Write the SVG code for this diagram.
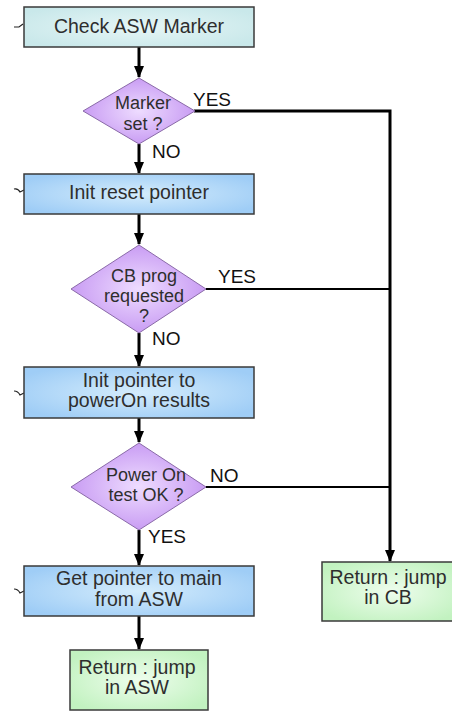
<svg xmlns="http://www.w3.org/2000/svg" width="452" height="711" viewBox="0 0 452 711">
<defs>
<radialGradient id="gTeal" cx="50%" cy="50%" r="60%"><stop offset="0" stop-color="#e6f6f6"/><stop offset="1" stop-color="#c9e8ea"/></radialGradient>
<radialGradient id="gBlue" cx="50%" cy="50%" r="60%"><stop offset="0" stop-color="#d4ecfc"/><stop offset="1" stop-color="#9fcdf6"/></radialGradient>
<radialGradient id="gGreen" cx="50%" cy="50%" r="60%"><stop offset="0" stop-color="#eefded"/><stop offset="1" stop-color="#c2f2c0"/></radialGradient>
<radialGradient id="gPurple" cx="50%" cy="50%" r="55%"><stop offset="0" stop-color="#eedcff"/><stop offset="1" stop-color="#c596f2"/></radialGradient>
<marker id="arr" markerWidth="12" markerHeight="12" refX="11" refY="6" orient="auto" markerUnits="userSpaceOnUse" viewBox="0 0 12 12">
<path d="M0,1 L12,6 L0,11 Z" fill="#000"/>
</marker>
</defs>
<style>
.box{stroke:#3a3a3a;stroke-width:1.5}
.dia{stroke:#8a6aa8;stroke-width:1}
.t{font-family:"Liberation Sans",Arial,sans-serif;font-size:19.5px;fill:#2e2e2e;text-anchor:middle}
.td{font-family:"Liberation Sans",Arial,sans-serif;font-size:18px;fill:#2e2e2e;text-anchor:middle}
.lbl{font-family:"Liberation Sans",Arial,sans-serif;font-size:19px;fill:#111}
.ln{stroke:#000;fill:none;stroke-width:3}
.ln2{stroke:#000;fill:none;stroke-width:2}
.tick{stroke:#222;fill:none;stroke-width:1.2}
</style>
<g id="connectors">
<path class="ln" d="M139,47 V77" marker-end="url(#arr)"/>
<path class="ln" d="M139,144 V173" marker-end="url(#arr)"/>
<path class="ln" d="M139,214 V244" marker-end="url(#arr)"/>
<path class="ln" d="M139,333 V366" marker-end="url(#arr)"/>
<path class="ln" d="M139,418 V442" marker-end="url(#arr)"/>
<path class="ln" d="M139,530 V565" marker-end="url(#arr)"/>
<path class="ln" d="M139,616 V649" marker-end="url(#arr)"/>
<path class="ln" d="M194,111 H390 V561" marker-end="url(#arr)"/>
<path class="ln2" d="M206,289 H390"/>
<path class="ln2" d="M206,487 H390"/>
<path class="tick" d="M14,27 H19 L23,24"/>
<path class="tick" d="M14,189 Q18,188 20,192 L24,190"/>
<path class="tick" d="M14,391 Q18,391 20,395 L24,393"/>
<path class="tick" d="M14,589 Q18,589 20,593 L24,591"/>
<text class="lbl" x="193" y="106">YES</text>
<text class="lbl" x="152" y="158">NO</text>
<text class="lbl" x="218" y="283">YES</text>
<text class="lbl" x="152" y="345">NO</text>
<text class="lbl" x="210" y="482">NO</text>
<text class="lbl" x="148" y="543">YES</text>
</g>
<g id="checkMarker">
<rect class="box" x="24" y="7" width="230" height="40" fill="url(#gTeal)"/>
<text class="t" x="139" y="33">Check ASW Marker</text>
</g>
<g id="markerSet">
<polygon class="dia" points="139,78 195,111 139,144 83,111" fill="url(#gPurple)"/>
<text class="td" x="143" y="109">Marker</text>
<text class="td" x="143" y="130">set ?</text>
</g>
<g id="initReset">
<rect class="box" x="24" y="174" width="230" height="40" fill="url(#gBlue)"/>
<text class="t" x="139" y="199">Init reset pointer</text>
</g>
<g id="cbProg">
<polygon class="dia" points="139,245 206,289 139,333 71,289" fill="url(#gPurple)"/>
<text class="td" x="144" y="282">CB prog</text>
<text class="td" x="144" y="302">requested</text>
<text class="td" x="144" y="322">?</text>
</g>
<g id="initPowerOn">
<rect class="box" x="24" y="367" width="230" height="51" fill="url(#gBlue)"/>
<text class="t" x="139" y="387">Init pointer to</text>
<text class="t" x="139" y="407">powerOn results</text>
</g>
<g id="powerOnTest">
<polygon class="dia" points="139,443 206,487 139,530 71,487" fill="url(#gPurple)"/>
<text class="td" x="146" y="481">Power On</text>
<text class="td" x="146" y="501">test OK ?</text>
</g>
<g id="getPointer">
<rect class="box" x="24" y="566" width="230" height="50" fill="url(#gBlue)"/>
<text class="t" x="139" y="585">Get pointer to main</text>
<text class="t" x="139" y="606">from ASW</text>
</g>
<g id="returnASW">
<rect class="box" x="70" y="650" width="138" height="60" fill="url(#gGreen)"/>
<text class="t" x="137" y="674">Return : jump</text>
<text class="t" x="137" y="694">in ASW</text>
</g>
<g id="returnCB">
<rect class="box" x="322" y="562" width="138" height="59" fill="url(#gGreen)"/>
<text class="t" x="388" y="584">Return : jump</text>
<text class="t" x="388" y="604">in CB</text>
</g>
</svg>
